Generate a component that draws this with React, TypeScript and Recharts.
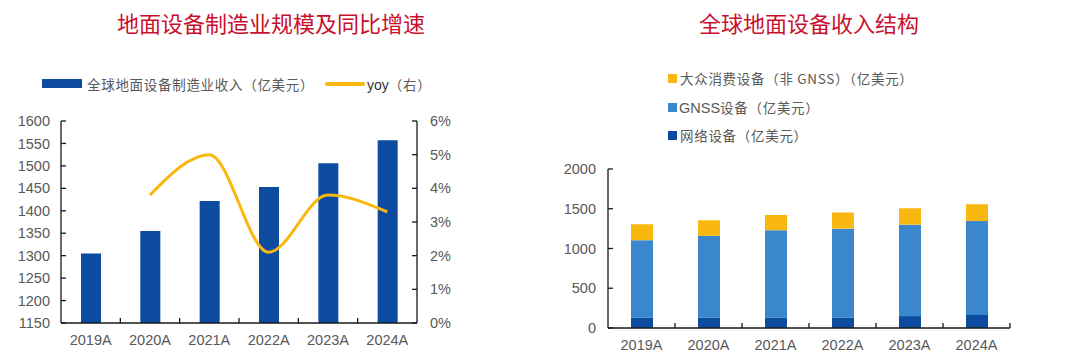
import React from "react"
import { Bar, BarChart, ComposedChart, Line, XAxis, YAxis } from "recharts"

const years = ["2019A", "2020A", "2021A", "2022A", "2023A", "2024A"]
// 全球地面设备制造业收入（亿美元）
const revenue = [1305, 1355, 1422, 1453, 1506, 1557]
// yoy（右），单位 %
const yoy = [null, 3.8, 5.0, 2.1, 3.8, 3.3]
const leftTicks = [1150, 1200, 1250, 1300, 1350, 1400, 1450, 1500, 1550, 1600]
const rightTicks = [0, 1, 2, 3, 4, 5, 6]

// 全球地面设备收入结构（亿美元）
const network = [130, 130, 130, 130, 150, 165]
const gnss = [975, 1030, 1100, 1120, 1150, 1180]
const consumer = [200, 195, 192, 203, 206, 212]
const structTicks = [0, 500, 1000, 1500, 2000]

const leftData = years.map((y, i) => ({ year: y, revenue: revenue[i], yoy: yoy[i] }))
const rightData = years.map((y, i) => ({ year: y, network: network[i], gnss: gnss[i], consumer: consumer[i] }))

const DARK = "#0d4ba0"
const MID = "#3a87cd"
const GOLD = "#f9b80f"
const TEXT = "#595959"
const AXIS = "#1a1a1a"
const NUM_FONT = "'Liberation Sans', Arial, sans-serif"
const CJK_FONT = "'Noto Sans CJK SC', sans-serif"

const LEFT_BAND = 356 / 6
const RIGHT_BAND = 402 / 6

function makeXTick(band: number, closeEnd: boolean) {
  return (props: any) => {
    const { x, y, payload, index } = props
    const half = band / 2
    return (
      <g>
        {index > 0 && <line x1={x - half} x2={x - half} y1={y} y2={y - 5} stroke={AXIS} strokeWidth={1.3} />}
        {closeEnd && index === years.length - 1 && (
          <line x1={x + half} x2={x + half} y1={y} y2={y - 5} stroke={AXIS} strokeWidth={1.3} />
        )}
        <text x={x} y={y + 22} textAnchor="middle" fill={TEXT} fontSize={14.5} fontFamily={NUM_FONT}>
          {payload.value}
        </text>
      </g>
    )
  }
}

const tickStyle = { fill: TEXT, fontSize: 14.5, fontFamily: NUM_FONT }
const axisLine = { stroke: AXIS, strokeWidth: 1.3 }
const tickLine = { stroke: AXIS, strokeWidth: 1.3 }

const title: React.CSSProperties = {
  position: "absolute",
  top: 8,
  fontSize: 22,
  color: "#c8102e",
  fontFamily: CJK_FONT,
  whiteSpace: "nowrap",
  transform: "translateX(-50%)",
  lineHeight: "28px",
}

const legendText: React.CSSProperties = {
  position: "absolute",
  fontSize: 13.5,
  color: TEXT,
  fontFamily: CJK_FONT,
  whiteSpace: "nowrap",
  lineHeight: "18px",
  letterSpacing: 0.7,
}

export default function App() {
  return (
    <div style={{ position: "absolute", left: 0, top: 0, width: 1080, height: 357, background: "#fff", overflow: "hidden" }}>
      <div style={{ ...title, left: 271 }}>地面设备制造业规模及同比增速</div>
      <div style={{ ...title, left: 809 }}>全球地面设备收入结构</div>

      {/* left legend */}
      <div style={{ position: "absolute", left: 42, top: 79, width: 40, height: 9, background: DARK }} />
      <div style={{ ...legendText, left: 87, top: 75 }}>全球地面设备制造业收入（亿美元）</div>
      <div style={{ position: "absolute", left: 325, top: 82, width: 40, height: 4, background: GOLD, borderRadius: 2 }} />
      <div style={{ ...legendText, left: 367, top: 75 }}>
        <span style={{ fontFamily: NUM_FONT, fontSize: 14, color: "#333", letterSpacing: 0 }}>yoy</span>（右）
      </div>

      {/* right legend */}
      <div style={{ position: "absolute", left: 668, top: 74, width: 9, height: 9, background: GOLD }} />
      <div style={{ ...legendText, left: 680, top: 69 }}>大众消费设备（非 GNSS）（亿美元）</div>
      <div style={{ position: "absolute", left: 668, top: 103, width: 9, height: 9, background: MID }} />
      <div style={{ ...legendText, left: 679, top: 98 }}>
        <span style={{ fontFamily: NUM_FONT, fontSize: 14.5, letterSpacing: 0 }}>GNSS</span>设备（亿美元）
      </div>
      <div style={{ position: "absolute", left: 668, top: 131, width: 9, height: 9, background: DARK }} />
      <div style={{ ...legendText, left: 680, top: 126 }}>网络设备（亿美元）</div>

      <div style={{ position: "absolute", left: 0, top: 0 }}>
        <ComposedChart width={460} height={357} data={leftData} margin={{ top: 121, right: 3, bottom: 10, left: 0 }} barSize={20}>
          <XAxis dataKey="year" height={24} axisLine={axisLine} tickLine={false} tickSize={0} tickMargin={0} tick={makeXTick(LEFT_BAND, false)} interval={0} />
          <YAxis
            yAxisId="left"
            width={61}
            domain={[1150, 1600]}
            ticks={leftTicks}
            allowDataOverflow
            axisLine={axisLine}
            tickLine={tickLine}
            tickSize={-5}
            tickMargin={16}
            tick={tickStyle}
          />
          <YAxis
            yAxisId="right"
            orientation="right"
            width={40}
            domain={[0, 6]}
            ticks={rightTicks}
            tickFormatter={(v: number) => `${v}%`}
            axisLine={axisLine}
            tickLine={tickLine}
            tickSize={-5}
            tickMargin={18}
            tick={tickStyle}
          />
          <Bar yAxisId="left" dataKey="revenue" fill={DARK} isAnimationActive={false} />
          <Line yAxisId="right" dataKey="yoy" type="monotone" stroke={GOLD} strokeWidth={3} dot={false} connectNulls isAnimationActive={false} />
        </ComposedChart>
      </div>

      <div style={{ position: "absolute", left: 540, top: 0 }}>
        <BarChart width={540} height={357} data={rightData} margin={{ top: 169, right: 70, bottom: 5, left: 0 }} barSize={22}>
          <XAxis dataKey="year" height={24} axisLine={axisLine} tickLine={false} tickSize={0} tickMargin={0} tick={makeXTick(RIGHT_BAND, true)} interval={0} />
          <YAxis
            width={68}
            domain={[0, 2000]}
            ticks={structTicks}
            axisLine={axisLine}
            tickLine={tickLine}
            tickSize={-5}
            tickMargin={17}
            tick={tickStyle}
          />
          <Bar dataKey="network" stackId="s" fill={DARK} isAnimationActive={false} />
          <Bar dataKey="gnss" stackId="s" fill={MID} isAnimationActive={false} />
          <Bar dataKey="consumer" stackId="s" fill={GOLD} isAnimationActive={false} />
        </BarChart>
      </div>
    </div>
  )
}
